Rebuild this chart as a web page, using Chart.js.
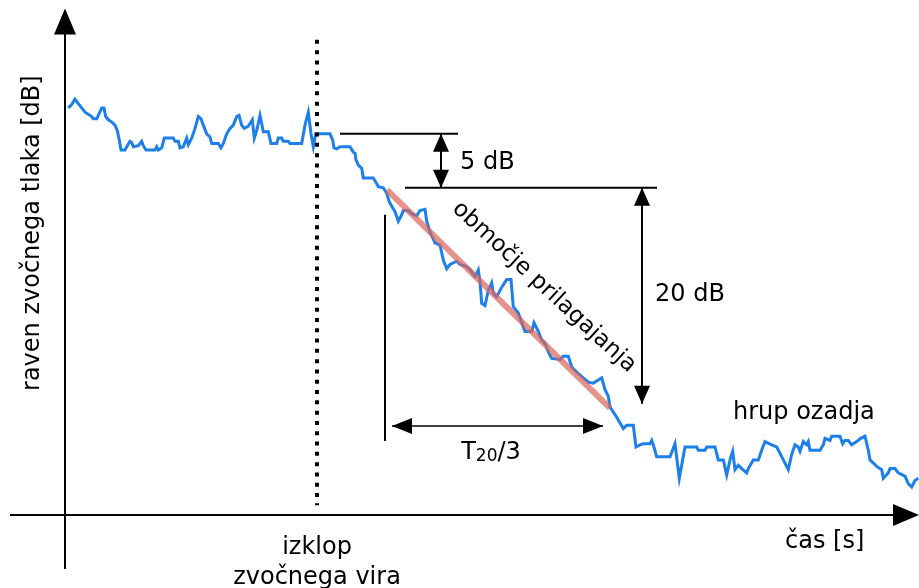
<!DOCTYPE html>
<html>
<head>
<meta charset="utf-8">
<script src="https://cdn.jsdelivr.net/npm/chart.js@4.4.1/dist/chart.umd.min.js"></script>
<style>
  html, body { margin: 0; padding: 0; background: #fff; }
  #wrap { width: 919px; height: 588px; }
</style>
</head>
<body>
<div id="wrap"><canvas id="decayChart" width="919" height="588"></canvas></div>
<script>
// ----- Data (time in arbitrary units, level in dB above the time axis) -----
const timeValues = [
  0.33, 0.67, 1.0, 1.33, 1.67, 2.0, 2.33, 2.67, 2.83, 3.17, 3.33, 3.67, 3.9, 4.07, 4.33, 4.67, 5.0, 5.23, 5.43, 5.6,
  6.0, 6.17, 6.5, 6.67, 6.83, 7.33, 7.67, 7.83, 8.1, 9.0, 9.17, 9.33, 9.67, 9.93, 10.83, 11.0, 11.33, 11.5, 11.83, 12.17,
  12.33, 12.67, 13.0, 13.33, 13.6, 13.83, 14.17, 14.5, 14.67, 15.33, 15.6, 15.83, 16.17, 16.5, 16.83, 17.17, 17.4, 17.67, 17.93, 18.33,
  18.73, 18.93, 19.17, 19.5, 19.83, 20.33, 20.6, 21.17, 21.33, 21.67, 21.83, 22.33, 22.5, 23.67, 24.0, 24.33, 24.6, 24.83, 25.07, 26.33,
  26.5, 26.77, 26.9, 27.17, 27.5, 28.5, 28.83, 29.0, 29.1, 29.33, 29.67, 29.83, 30.83, 31.1, 31.33, 31.83, 32.17, 32.43, 32.67, 33.0,
  33.33, 33.67, 33.83, 34.33, 34.67, 35.17, 35.5, 36.0, 36.17, 36.5, 37.0, 37.5, 37.83, 38.17, 38.5, 39.17, 39.5, 40.17, 40.5, 41.0,
  41.33, 41.5, 41.67, 42.0, 42.33, 42.67, 42.83, 43.17, 43.67, 44.17, 44.6, 44.83, 45.33, 45.83, 46.0, 46.67, 46.9, 47.33, 47.67, 48.0,
  48.33, 48.67, 49.5, 49.83, 50.33, 50.67, 51.33, 51.83, 52.33, 52.83, 53.33, 53.67, 54.0, 54.33, 54.5, 55.0, 55.33, 55.83, 56.17, 56.83,
  57.1, 57.5, 57.83, 58.5, 58.67, 58.83, 59.17, 60.5, 61.0, 61.43, 62.0, 63.17, 63.33, 64.0, 64.17, 65.0, 65.33, 65.83, 66.17, 66.5,
  66.77, 67.0, 67.33, 67.67, 68.17, 68.33, 68.83, 69.33, 69.67, 70.0, 70.67, 71.17, 71.83, 72.33, 72.67, 73.0, 73.33, 73.5, 73.83, 74.17,
  74.33, 74.5, 75.5, 75.83, 76.0, 76.5, 76.67, 77.5, 77.77, 78.0, 78.33, 78.67, 79.17, 79.57, 80.0, 80.33, 80.5, 81.17, 81.67, 81.83,
  82.33, 82.5, 83.0, 83.33, 84.0, 84.33, 84.67, 85.0, 85.33
];
const levelValues = [
  37.7, 38.0, 38.5, 38.1, 37.7, 37.3, 37.1, 36.9, 36.7, 36.7, 37.0, 37.7, 37.7, 36.9, 36.6, 36.4, 36.1, 35.6, 34.7, 33.8,
  33.8, 34.1, 34.6, 34.5, 34.1, 34.2, 34.6, 34.2, 33.8, 33.8, 34.1, 33.8, 34.0, 34.9, 34.9, 34.6, 34.6, 34.0, 34.1, 34.9,
  34.3, 34.9, 35.8, 36.9, 36.7, 36.1, 35.3, 35.0, 34.4, 34.4, 34.0, 34.4, 35.3, 35.8, 36.1, 36.9, 37.0, 36.1, 35.8, 36.0,
  36.6, 34.9, 35.6, 37.0, 35.5, 35.5, 34.4, 34.4, 34.9, 34.9, 34.6, 34.6, 34.4, 34.4, 36.1, 37.3, 35.3, 34.1, 35.3, 35.3,
  35.3, 34.7, 34.0, 33.9, 34.1, 34.1, 33.6, 33.5, 32.9, 32.4, 32.1, 31.2, 31.2, 30.8, 30.4, 30.3, 29.8, 29.0, 28.6, 28.1,
  27.2, 27.8, 28.2, 28.2, 27.9, 27.7, 28.2, 28.3, 27.2, 26.2, 25.2, 25.0, 23.6, 22.8, 23.2, 23.5, 23.2, 23.0, 22.7, 22.1,
  22.7, 21.6, 19.6, 19.4, 20.8, 21.5, 20.5, 20.2, 21.1, 21.8, 21.8, 19.3, 18.7, 17.4, 17.0, 17.0, 17.8, 17.0, 16.2, 15.9,
  15.1, 14.5, 14.4, 14.7, 14.7, 13.7, 13.1, 12.7, 12.3, 12.2, 12.5, 12.7, 11.6, 11.0, 10.0, 9.3, 8.8, 8.0, 8.3, 8.3,
  6.3, 6.5, 6.6, 6.6, 6.9, 6.5, 5.4, 5.4, 6.6, 3.4, 6.3, 6.3, 6.0, 6.0, 6.3, 6.3, 5.1, 5.1, 3.7, 5.1,
  5.9, 4.2, 4.6, 4.3, 3.9, 4.3, 5.1, 5.1, 6.0, 6.8, 6.5, 6.3, 5.1, 4.2, 5.6, 6.5, 6.3, 5.9, 6.8, 6.5,
  6.8, 6.0, 6.0, 6.5, 7.1, 6.9, 7.3, 7.3, 6.6, 6.9, 6.9, 6.5, 6.8, 7.1, 7.3, 6.0, 5.1, 4.5, 4.2, 3.4,
  3.9, 4.3, 4.3, 3.9, 3.6, 2.9, 2.6, 3.2, 3.4
];
// regression line over the evaluation range (start / end)
const fitTimes = [32.2, 54.5];
const fitLevels = [30.1, 9.9];

// marker values used by the annotations
const switchOffTime = 25.2;
const rangeTop = 35.3;       // level at start of decay (0 dB)
const rangeStart = 30.3;     // -5 dB
const rangeEnd = 10.3;       // -25 dB
const t20Start = 32.7;
const t20End = 53.8;

const axisFont = '24px "DejaVu Sans", sans-serif';
const subFont = '17px "DejaVu Sans", sans-serif';
const slopeFont = '23px "DejaVu Sans", sans-serif';

// ----- Annotation plugin -----
function arrowHead(ctx, x, y, angle, len, half) {
  ctx.save();
  ctx.translate(x, y);
  ctx.rotate(angle);
  ctx.beginPath();
  ctx.moveTo(0, 0);
  ctx.lineTo(-len, -half);
  ctx.lineTo(-len, half);
  ctx.closePath();
  ctx.fill();
  ctx.restore();
}

function line(ctx, x1, y1, x2, y2) {
  ctx.beginPath();
  ctx.moveTo(x1, y1);
  ctx.lineTo(x2, y2);
  ctx.stroke();
}

function doubleArrow(ctx, x1, y1, x2, y2, len, half) {
  const a = Math.atan2(y2 - y1, x2 - x1);
  line(ctx, x1, y1, x2, y2);
  arrowHead(ctx, x2, y2, a, len, half);
  arrowHead(ctx, x1, y1, a + Math.PI, len, half);
}

const annotations = {
  id: "annotations",
  afterDraw(chart) {
    const ctx = chart.ctx;
    const xs = chart.scales.x;
    const ys = chart.scales.y;
    const X = v => xs.getPixelForValue(v);
    const Y = v => ys.getPixelForValue(v);

    ctx.save();
    ctx.fillStyle = "#000";
    ctx.strokeStyle = "#000";

    // axes with arrow tips
    ctx.lineWidth = 2;
    line(ctx, X(-5.5), Y(0), X(83), Y(0));
    arrowHead(ctx, X(85.4), Y(0), 0, 26, 11);
    line(ctx, X(0), Y(-5), X(0), Y(45));
    arrowHead(ctx, X(0), Y(46.9), -Math.PI / 2, 26, 11);

    // source switch-off (dotted)
    ctx.save();
    ctx.lineWidth = 4;
    ctx.setLineDash([4, 6.3]);
    line(ctx, X(switchOffTime), Y(44), X(switchOffTime), Y(0.9));
    ctx.restore();

    // level markers
    ctx.lineWidth = 2;
    line(ctx, X(27.5), Y(rangeTop), X(39.3), Y(rangeTop));
    line(ctx, X(34.0), Y(rangeStart), X(59.2), Y(rangeStart));
    doubleArrow(ctx, X(37.6), Y(rangeTop), X(37.6), Y(rangeStart), 18, 8);
    doubleArrow(ctx, X(57.7), Y(rangeStart), X(57.7), Y(rangeEnd), 18, 8);

    // T20/3 span
    line(ctx, X(32.0), Y(27.8), X(32.0), Y(6.85));
    ctx.lineWidth = 1.5;
    doubleArrow(ctx, X(t20Start), Y(8.24), X(t20End), Y(8.24), 20, 8);

    // texts
    ctx.font = axisFont;
    ctx.textBaseline = "middle";
    ctx.textAlign = "left";
    ctx.fillText("5 dB", X(39.5), Y(32.6));
    ctx.fillText("20 dB", X(59.0), Y(20.4));
    ctx.fillText("hrup ozadja", X(66.8), Y(9.5));
    ctx.fillText("čas [s]", X(72.0), Y(-2.5));

    ctx.textAlign = "center";
    ctx.fillText("izklop", X(switchOffTime), Y(-3.0));
    ctx.fillText("zvočnega vira", X(switchOffTime), Y(-5.85));

    // T20/3 with subscript
    ctx.textAlign = "left";
    const wT = ctx.measureText("T").width;
    const wRest = ctx.measureText("/3").width;
    ctx.font = subFont;
    const wSub = ctx.measureText("20").width;
    let tx = X(42.6) - (wT + wSub + wRest) / 2;
    const ty = Y(5.8);
    ctx.font = axisFont;
    ctx.fillText("T", tx, ty);
    tx += wT;
    ctx.font = subFont;
    ctx.fillText("20", tx, ty + 4);
    tx += wSub;
    ctx.font = axisFont;
    ctx.fillText("/3", tx, ty);

    // rotated labels
    ctx.textAlign = "center";
    ctx.save();
    ctx.translate(X(-3.2), Y(26.1));
    ctx.rotate(-Math.PI / 2);
    ctx.fillText("raven zvočnega tlaka [dB]", 0, 0);
    ctx.restore();

    const ang = Math.atan2(Y(fitLevels[1]) - Y(fitLevels[0]), X(fitTimes[1]) - X(fitTimes[0]));
    ctx.font = slopeFont;
    ctx.save();
    ctx.translate(X(47.9), Y(21.1));
    ctx.rotate(ang - 0.03);
    ctx.fillText("območje prilagajanja", 0, 0);
    ctx.restore();

    ctx.restore();
  }
};

// ----- Chart -----
document.addEventListener("DOMContentLoaded", () => {
  const ctx = document.getElementById("decayChart").getContext("2d");
  new Chart(ctx, {
    type: "line",
    data: {
      datasets: [
        {
          label: "fit",
          data: fitTimes.map((t, i) => ({ x: t, y: fitLevels[i] })),
          borderColor: "rgba(218, 100, 90, 0.7)",
          borderWidth: 6,
          pointRadius: 0,
          order: 0,
        },
        {
          label: "level",
          data: timeValues.map((t, i) => ({ x: t, y: levelValues[i] })),
          borderColor: "#1c7fea",
          borderWidth: 3,
          pointRadius: 0,
          tension: 0,
          order: 1,
        },
      ],
    },
    options: {
      responsive: false,
      animation: false,
      layout: { padding: 0 },
      plugins: { legend: { display: false }, tooltip: { enabled: false } },
      scales: {
        x: { type: "linear", min: -6.5, max: 85.4, display: false },
        y: { type: "linear", min: -6.76, max: 47.69, display: false },
      },
    },
    plugins: [annotations],
  });
});
</script>
</body>
</html>
